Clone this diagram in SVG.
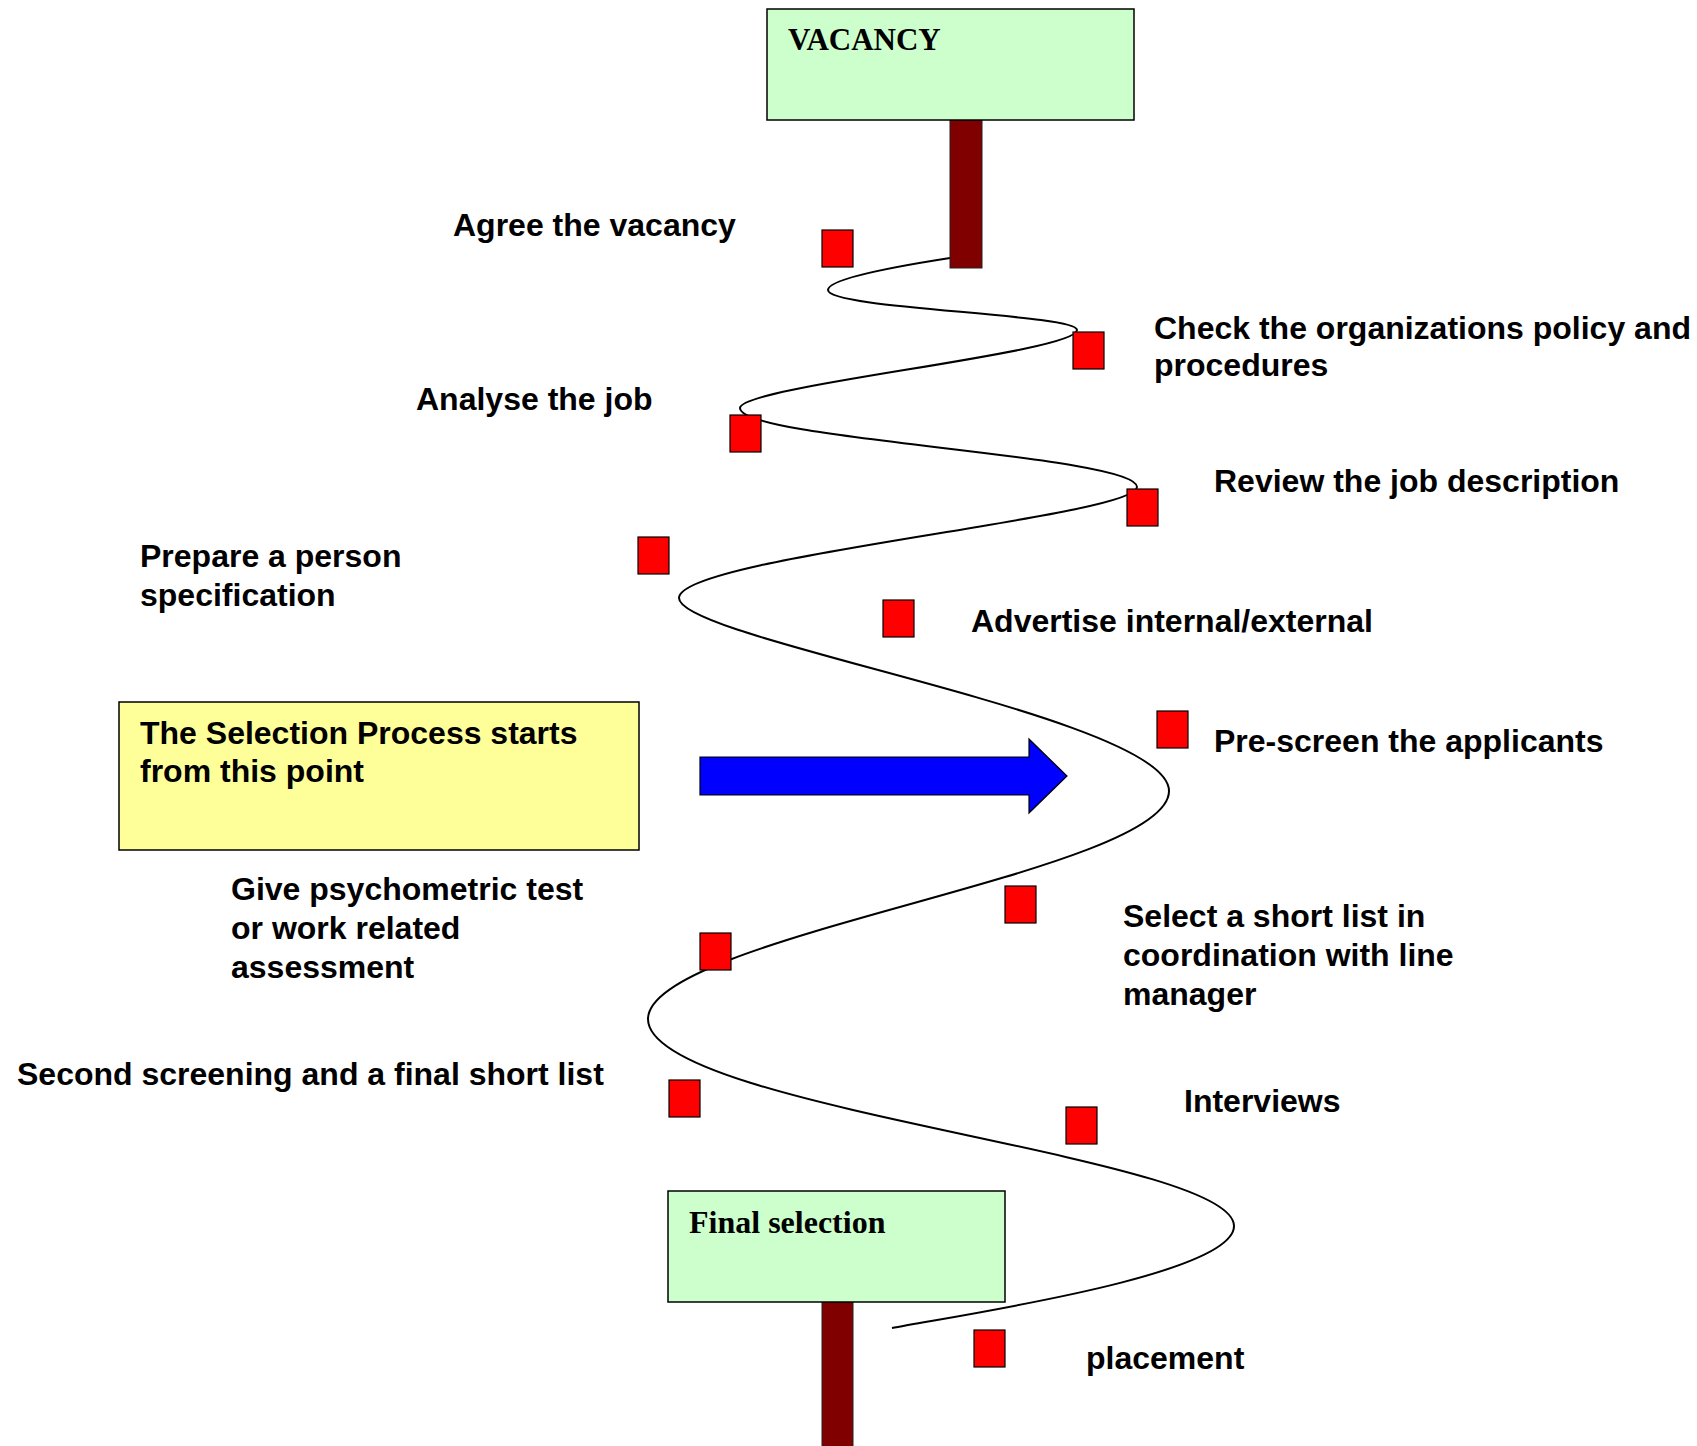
<svg xmlns="http://www.w3.org/2000/svg" width="1697" height="1446" viewBox="0 0 1697 1446">
<style>
.sign{fill:#CCFFCC;stroke:#000;stroke-width:1.5}
.post{fill:#800000;stroke:#222;stroke-width:1}
.sq{fill:#FF0000;stroke:#000;stroke-width:1.2}
.lbl{font-family:"Liberation Sans",Arial,sans-serif;font-weight:bold;font-size:32px;fill:#000}
.ttl{font-family:"Liberation Serif","Times New Roman",serif;font-weight:bold;font-size:31px;fill:#000}
.note{fill:#FFFF99;stroke:#000;stroke-width:1.5}
.curve{fill:none;stroke:#000;stroke-width:2}
.barrow{fill:#0000FF;stroke:#000;stroke-width:1.2}
</style>
<rect width="1697" height="1446" fill="#fff"/>

<g id="connectors">
<path class="curve" d="M950,258 C905,265 828,278 828,290 C828,309 1077,314 1077,330 C1077,353 740,386 740,408 C740,440 1137,455 1137,487 C1137,517 679,557 679,598 C679,640 1169,717 1169,791 C1169,873 648,936 648,1019 C648,1109 1234,1155 1234,1226 C1234,1276 952,1316 892,1328"/>
<polygon class="barrow" points="700,757 1029,757 1029,739 1067,776 1029,813 1029,795 700,795"/>
</g>

<g id="vacancy">
<rect class="post" x="950" y="120" width="32" height="148"/>
<rect class="sign" x="767" y="9" width="367" height="111"/>
<text class="ttl" x="788" y="50">VACANCY</text>
</g>

<g id="final-selection">
<rect class="post" x="822" y="1302" width="31" height="150"/>
<rect class="sign" x="668" y="1191" width="337" height="111"/>
<text class="ttl" x="689" y="1233" style="font-size:32px">Final selection</text>
</g>

<g id="selection-note">
<rect class="note" x="119" y="702" width="520" height="148"/>
<text class="lbl" x="140" y="744">The Selection Process starts</text>
<text class="lbl" x="140" y="782">from this point</text>
</g>

<g id="step-agree">
<rect class="sq" x="822" y="230" width="31" height="37"/>
<text class="lbl" x="453" y="236">Agree the vacancy</text>
</g>
<g id="step-check">
<rect class="sq" x="1073" y="332" width="31" height="37"/>
<text class="lbl" x="1154" y="339">Check the organizations policy and</text>
<text class="lbl" x="1154" y="376">procedures</text>
</g>
<g id="step-analyse">
<rect class="sq" x="730" y="415" width="31" height="37"/>
<text class="lbl" x="416" y="410">Analyse the job</text>
</g>
<g id="step-review">
<rect class="sq" x="1127" y="489" width="31" height="37"/>
<text class="lbl" x="1214" y="492">Review the job description</text>
</g>
<g id="step-prepare">
<rect class="sq" x="638" y="537" width="31" height="37"/>
<text class="lbl" x="140" y="567">Prepare a person</text>
<text class="lbl" x="140" y="606">specification</text>
</g>
<g id="step-advertise">
<rect class="sq" x="883" y="600" width="31" height="37"/>
<text class="lbl" x="971" y="632">Advertise internal/external</text>
</g>
<g id="step-prescreen">
<rect class="sq" x="1157" y="711" width="31" height="37"/>
<text class="lbl" x="1214" y="752">Pre-screen the applicants</text>
</g>
<g id="step-select">
<rect class="sq" x="1005" y="886" width="31" height="37"/>
<text class="lbl" x="1123" y="927">Select a short list in</text>
<text class="lbl" x="1123" y="966">coordination with line</text>
<text class="lbl" x="1123" y="1005">manager</text>
</g>
<g id="step-psychometric">
<rect class="sq" x="700" y="933" width="31" height="37"/>
<text class="lbl" x="231" y="900">Give psychometric test</text>
<text class="lbl" x="231" y="939">or work related</text>
<text class="lbl" x="231" y="978">assessment</text>
</g>
<g id="step-second">
<rect class="sq" x="669" y="1080" width="31" height="37"/>
<text class="lbl" x="17" y="1085">Second screening and a final short list</text>
</g>
<g id="step-interviews">
<rect class="sq" x="1066" y="1107" width="31" height="37"/>
<text class="lbl" x="1184" y="1112">Interviews</text>
</g>
<g id="step-placement">
<rect class="sq" x="974" y="1330" width="31" height="37"/>
<text class="lbl" x="1086" y="1369">placement</text>
</g>
</svg>
